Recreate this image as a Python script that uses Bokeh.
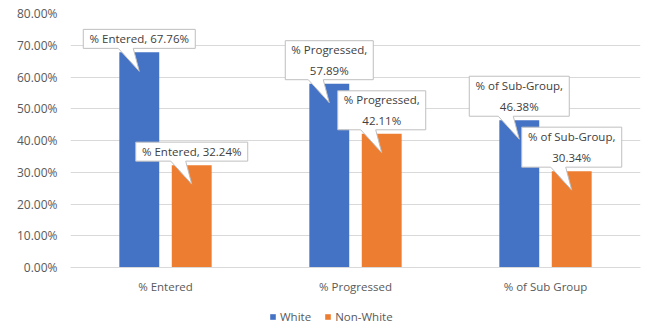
from bokeh.plotting import figure
from bokeh.models import ColumnDataSource, FactorRange, NumeralTickFormatter, Legend, LegendItem, FixedTicker, Range1d
from bokeh.layouts import column
from bokeh.transform import dodge
from bokeh.embed import file_html
from bokeh.resources import INLINE
from bokeh.core.properties import value

# ---- data ----
categories = ["% Entered", "% Progressed", "% of Sub Group"]
white = [0.6776, 0.5789, 0.4638]
non_white = [0.3224, 0.4211, 0.3034]
callout_names = ["% Entered", "% Progressed", "% of Sub-Group"]
series_names = ["White", "Non-White"]
y_ticks = [0.0, 0.1, 0.2, 0.3, 0.4, 0.5, 0.6, 0.7, 0.8]

BLUE = "#4472C4"
ORANGE = "#ED7D31"
FONT = "Open Sans"
GRAY = "#595959"

W = 651
H_MAIN, H_LEG = 300, 25
LEFT, RIGHT, TOP, BOTTOM = 70, 11, 13, 33
frame_w = W - LEFT - RIGHT
frame_h = H_MAIN - TOP - BOTTOM
YMAX = 0.8

p = figure(width=W, height=H_MAIN, x_range=FactorRange(*categories), y_range=Range1d(0, YMAX),
           output_backend="svg", toolbar_location=None,
           min_border_left=LEFT, min_border_right=RIGHT, min_border_top=TOP, min_border_bottom=BOTTOM)
p.x_range.range_padding = 0
p.outline_line_color = None
p.background_fill_color = "white"
p.border_fill_color = "white"

src = ColumnDataSource(dict(cat=categories, white=white, non_white=non_white))
OFF = 0.138
BW = 0.21
p.vbar(x=dodge("cat", -OFF, range=p.x_range), top="white", width=BW, source=src,
       fill_color=BLUE, line_color=None)
p.vbar(x=dodge("cat", OFF, range=p.x_range), top="non_white", width=BW, source=src,
       fill_color=ORANGE, line_color=None)

# ---- callouts (anchored at bar tops, offsets in pixels converted to data) ----
px_x = len(categories) / frame_w
px_y = YMAX / frame_h

def pct(v):
    return f"{v*100:.2f}%"

xs, ys, tx, ty, tt = [], [], [], [], []
for i, name in enumerate(callout_names):
    for off, vals in ((-OFF, white), (OFF, non_white)):
        cx = i + 0.5 + off
        top = vals[i]
        if name == "% Entered":
            label = f"{name}, {pct(top)}"
            hw, hh = 56, 19
        elif name == "% Progressed":
            label = f"{name},\n{pct(top)}"
            hw, hh = 44, 39
        else:
            label = f"{name},\n{pct(top)}"
            hw, hh = 50, 40
        b = top + 4 * px_y
        t = b + hh * px_y
        l = cx - hw * px_x
        r = cx + hw * px_x
        tipy = top - 19 * px_y
        xs.append([l, r, r, cx - 6 * px_x, cx, cx - 21 * px_x, l])
        ys.append([t, t, b, b, tipy, b, b])
        tx.append(cx)
        ty.append((t + b) / 2)
        tt.append(label)

p.patches(xs, ys, fill_color="white", line_color="#bfbfbf", line_width=1)
p.text(tx, ty, text=tt, text_align="center", text_baseline="middle",
       text_font=value(FONT), text_font_size="11.5px", text_color="#404040",
       text_line_height=1.4)

# ---- axes ----
p.yaxis.ticker = FixedTicker(ticks=y_ticks)
p.yaxis.formatter = NumeralTickFormatter(format="0.00%")
p.yaxis.axis_line_color = None
p.yaxis.major_tick_line_color = None
p.yaxis.minor_tick_line_color = None
p.yaxis.major_label_text_font = FONT
p.yaxis.major_label_text_font_size = "12px"
p.yaxis.major_label_text_color = GRAY
p.yaxis.major_label_standoff = 7

p.xaxis.axis_line_color = "#d9d9d9"
p.xaxis.major_tick_line_color = None
p.xaxis.minor_tick_line_color = None
p.xaxis.major_label_text_font = FONT
p.xaxis.major_label_text_font_size = "11.5px"
p.xaxis.major_label_text_color = GRAY
p.xaxis.major_label_standoff = 5

p.xgrid.grid_line_color = None
p.ygrid.grid_line_color = "#d9d9d9"

# ---- legend strip ----
p2 = figure(width=W, height=H_LEG, x_range=Range1d(0, 1), y_range=Range1d(0, 1),
            x_axis_type=None, y_axis_type=None, output_backend="svg", toolbar_location=None,
            min_border_left=0, min_border_right=0, min_border_top=7, min_border_bottom=0)
p2.outline_line_color = None
p2.xgrid.grid_line_color = None
p2.ygrid.grid_line_color = None
# legend swatches, drawn outside this strip's visible range
g1 = p2.vbar(x=[-10], top=[-10], width=0.1, fill_color=BLUE, line_color=None)
g2 = p2.vbar(x=[-10], top=[-10], width=0.1, fill_color=ORANGE, line_color=None)
legend = Legend(items=[LegendItem(label=series_names[0], renderers=[g1]),
                       LegendItem(label=series_names[1], renderers=[g2])],
                orientation="horizontal", location=(199, 1),
                label_text_font=FONT, label_text_font_size="11.5px", label_text_color=GRAY,
                glyph_width=7, glyph_height=7, spacing=13, label_standoff=4,
                border_line_color=None, background_fill_alpha=0, padding=0, margin=0)
p2.add_layout(legend, "center")

open("out.html", "w").write(file_html(column(p, p2, spacing=0), INLINE))
